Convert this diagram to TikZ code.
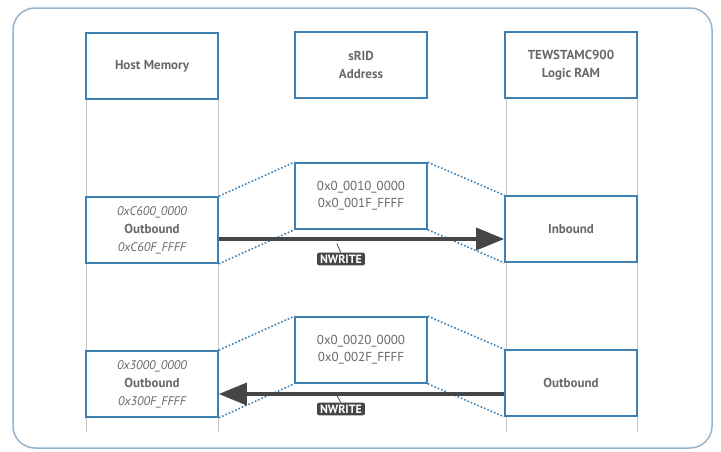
\documentclass[tikz,border=0pt]{standalone}
\usepackage{fontspec}
\setmainfont{PT Sans}
\usetikzlibrary{arrows.meta,positioning}
\definecolor{boxblue}{RGB}{62,128,178}
\definecolor{framecol}{RGB}{150,180,205}
\definecolor{txtgray}{RGB}{105,105,105}
\definecolor{lanegray}{RGB}{200,200,200}
\definecolor{arrowgray}{RGB}{70,70,70}
\newcommand{\addrit}[1]{{\mdseries\itshape\fontsize{12.5}{17}\selectfont #1}}
\tikzset{
  membox/.style={draw=boxblue,line width=1.6pt,fill=white,minimum width=132pt,minimum height=66pt,
    align=center,text=txtgray,font=\bfseries\fontsize{13}{18}\selectfont},
  rangebox/.style={membox,font=\fontsize{13}{17}\selectfont},
  lane/.style={draw=lanegray,line width=0.6pt},
  zoomline/.style={draw=boxblue,line width=1.6pt,dotted},
  writearrow/.style={draw=arrowgray,line width=3.5pt,-{Triangle[length=28pt,width=22pt]}},
  taglabel/.style={fill=arrowgray,text=white,rounded corners=2pt,inner xsep=3pt,inner ysep=2pt,
    font=\bfseries\fontsize{12}{13}\selectfont}
}
\begin{document}
\begin{tikzpicture}[x=1pt,y=-1pt]
    \useasboundingbox (0,0) rectangle (721,451);
    \draw[framecol,line width=1.5pt,rounded corners=22pt] (13,8) rectangle (712,448);

    % lanes
    \draw[lane] (86,99) -- (86,432) (218,99) -- (218,432);
    \draw[lane] (506,98) -- (506,432) (637,98) -- (637,432);

    % column headers
    \node[membox] (host) at (152,66) {Host Memory};
    \node[membox] (srid) at (361,65) {sRID\\Address};
    \node[membox] (ram) at (571,65) {TEWSTAMC900\\Logic RAM};

    % first window
    \node[membox] (hostA) at (152,230) {\addrit{0xC600\_0000}\\Outbound\\\addrit{0xC60F\_FFFF}};
    \node[rangebox] (sridA) at (361,196) {0x0\_0010\_0000\\0x0\_001F\_FFFF};
    \node[membox] (ramA) at (571,229) {Inbound};

    % second window
    \node[membox] (hostB) at (152,384) {\addrit{0x3000\_0000}\\Outbound\\\addrit{0x300F\_FFFF}};
    \node[rangebox] (sridB) at (361,350) {0x0\_0020\_0000\\0x0\_002F\_FFFF};
    \node[membox] (ramB) at (571,383) {Outbound};

    \draw[zoomline] (hostA.north east) -- (sridA.north west);
    \draw[zoomline] (hostA.south east) -- (sridA.south west);
    \draw[zoomline] (sridA.north east) -- (ramA.north west);
    \draw[zoomline] (sridA.south east) -- (ramA.south west);
    \draw[zoomline] (hostB.north east) -- (sridB.north west);
    \draw[zoomline] (hostB.south east) -- (sridB.south west);
    \draw[zoomline] (sridB.north east) -- (ramB.north west);
    \draw[zoomline] (sridB.south east) -- (ramB.south west);

    % writes
    \draw[writearrow] (hostA.east |- 0,239) -- (ramA.west |- 0,239);
    \draw[writearrow] (ramB.west |- 0,394) -- (hostB.east |- 0,394);

    \node[taglabel] (tagA) at (341,259) {NWRITE};
    \node[taglabel] (tagB) at (341,409) {NWRITE};
    \draw[arrowgray,line width=0.8pt] (tagA.north west) ++(24,0) -- ++(-4,-9);
    \draw[arrowgray,line width=0.8pt] (tagB.north west) ++(24,0) -- ++(-4,-7);
\end{tikzpicture}
\end{document}
